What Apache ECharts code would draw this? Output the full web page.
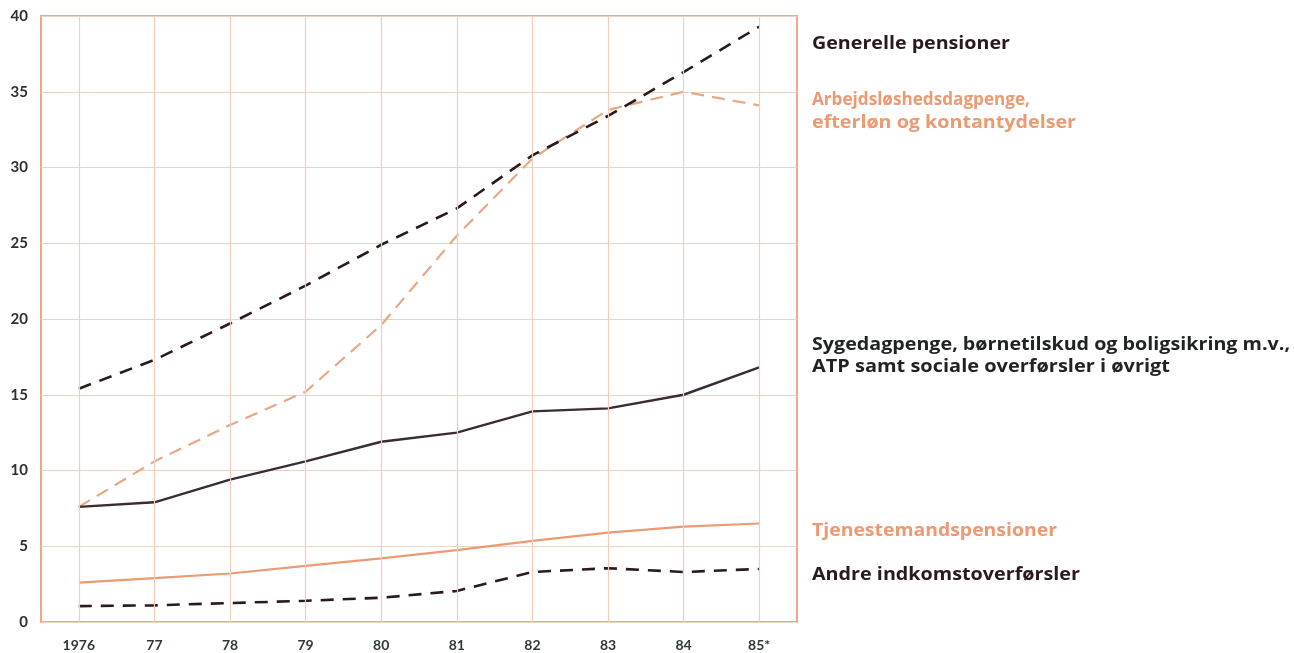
<!DOCTYPE html>
<html><head><meta charset="utf-8">
<script src="https://cdn.jsdelivr.net/npm/echarts@6/dist/echarts.min.js"></script>
<style>html,body{margin:0;padding:0;background:#fff}#c{width:1294px;height:653px}</style>
</head><body><div id="c"></div>
<script>
const years = ['1976','77','78','79','80','81','82','83','84','85*'];
const yTicks = [0,5,10,15,20,25,30,35,40];
const generelle = [15.4,17.3,19.7,22.2,24.9,27.3,30.8,33.4,36.3,39.3];
const arbejds = [7.6,10.6,13.0,15.2,19.6,25.5,30.6,33.8,35.0,34.1];
const syge = [7.6,7.9,9.4,10.6,11.9,12.5,13.9,14.1,15.0,16.8];
const tjeneste = [2.6,2.9,3.2,3.7,4.2,4.75,5.35,5.9,6.3,6.5];
const andre = [1.05,1.1,1.25,1.4,1.6,2.05,3.3,3.55,3.3,3.5];
const labelLines = [
  'Generelle pensioner',
  'Arbejdsløshedsdagpenge,',
  'efterløn og kontantydelser',
  'Sygedagpenge, børnetilskud og boligsikring m.v.,',
  'ATP samt sociale overførsler i øvrigt',
  'Tjenestemandspensioner',
  'Andre indkomstoverførsler'
];

const DARK = '#2a1a1c', SALMON = '#eb9a72', SOLIDDARK = '#3b2b36';
const font = 'Lato, "Open Sans", sans-serif';
const labelFont = 'bold 17px "Open Sans", Lato, sans-serif';
const mctx = document.createElement('canvas').getContext('2d');
mctx.font = labelFont;
// layout: [centre y, target width, colour]
const labelLayout = [
  [44, 198, DARK],
  [100, 218, SALMON],
  [123, 264, SALMON],
  [345, 478, '#1f2420'],
  [367, 358, '#1f2420'],
  [531, 245, SALMON],
  [575, 268, DARK]
];
const graphics = labelLines.map((t, i) => {
  const [cy, w, col] = labelLayout[i];
  const nat = mctx.measureText(t).width || w;
  return {type:'text', x:812, y:cy, scaleX: w / nat,
    style:{text:t, font:labelFont, fill:col, verticalAlign:'middle', align:'left'}};
});

const chart = echarts.init(document.getElementById('c'));
chart.setOption({
  animation:false,
  grid:{left:41, top:16, width:756, height:606, show:true, borderColor:'#f2a58e', borderWidth:2},
  xAxis:{type:'category', data:years, boundaryGap:true,
    axisLine:{show:false}, axisTick:{show:false},
    axisLabel:{color:'#2f3a33', fontFamily:font, fontSize:14, fontWeight:'bold', margin:16},
    splitLine:{show:false}
  },
  yAxis:{type:'value', min:0, max:40, interval:5,
    axisLine:{show:false}, axisTick:{show:false},
    axisLabel:{color:'#2f2f2f', fontFamily:font, fontSize:15, fontWeight:'bold', margin:13,
      formatter:v => yTicks.includes(v) ? String(v) : ''},
    splitLine:{lineStyle:{color:'#ecd3c3', width:1.2}}
  },
  series:[
    {type:'line', data:[], z:1, silent:true,
      markLine:{silent:true, symbol:'none', label:{show:false},
        lineStyle:{color:'#f0cdbf', width:1.2, type:'solid'},
        emphasis:{disabled:true},
        data: years.map(y => ({xAxis:y}))}},
    {type:'line', z:3, data:tjeneste, symbol:'none', lineStyle:{color:SALMON, width:2.2}},
    {type:'line', z:3, data:arbejds, symbol:'none', lineStyle:{color:'#e8a886', width:2.2, type:[13,8]}},
    {type:'line', z:3, data:syge, symbol:'none', lineStyle:{color:SOLIDDARK, width:2.4}},
    {type:'line', z:3, data:andre, symbol:'none', lineStyle:{color:DARK, width:2.6, type:[13,9]}},
    {type:'line', z:3, data:generelle, symbol:'none', lineStyle:{color:DARK, width:2.6, type:[13,9]}}
  ],
  graphic:graphics
});
</script></body></html>
